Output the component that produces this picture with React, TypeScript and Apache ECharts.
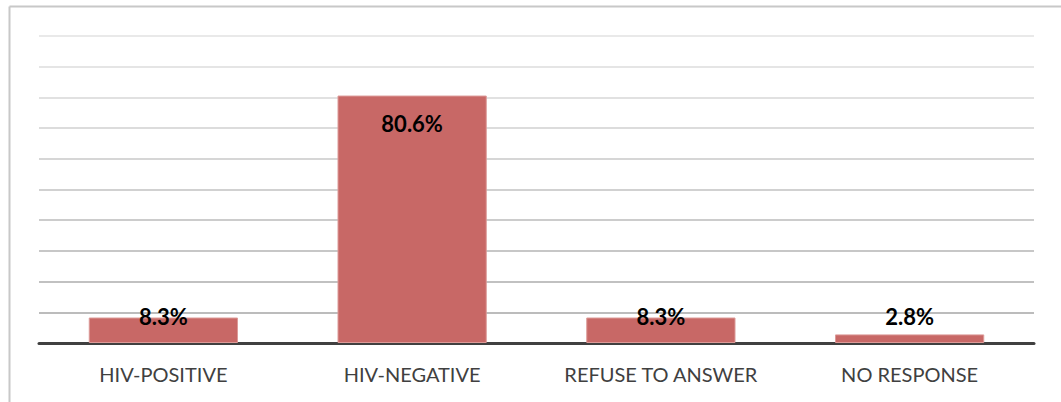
import React, { useEffect, useRef } from "react";
import * as echarts from "echarts";

const categories = ["HIV-POSITIVE", "HIV-NEGATIVE", "REFUSE TO ANSWER", "NO RESPONSE"];
const values = [8.3, 80.6, 8.3, 2.8];
const labelPlacement = [
  { position: "top", distance: -10 },
  { position: "insideTop", distance: 17 },
  { position: "top", distance: -10 },
  { position: "top", distance: 6.5 },
];
const gridColors = [
  "#a0a0a0", "#a6a6a6", "#adadad", "#b4b4b4", "#bbbbbb", "#c2c2c2",
  "#c9c9c9", "#d0d0d0", "#d7d7d7", "#dddddd", "#e2e2e2",
];

export default function App() {
  const ref = useRef<HTMLDivElement>(null);
  useEffect(() => {
    const chart = echarts.init(ref.current!, undefined, { renderer: "svg" });
    chart.setOption({
      animation: false,
      backgroundColor: "#ffffff",
      grid: { left: 39, right: 27, top: 36, bottom: 59, containLabel: false },
      xAxis: {
        type: "category",
        data: categories,
        axisLine: { show: true, lineStyle: { color: "#404040", width: 3 } },
        axisTick: { show: false },
        axisLabel: {
          color: "#404040",
          fontFamily: "Lato",
          fontSize: 20,
          margin: 21,
          interval: 0,
          hideOverlap: false,
        },
      },
      yAxis: {
        type: "value",
        min: 0,
        max: 100,
        interval: 10,
        axisLabel: { show: false },
        axisLine: { show: false },
        axisTick: { show: false },
        splitLine: { show: true, lineStyle: { color: gridColors, width: 1.5 } },
      },
      series: [
        {
          type: "bar",
          barWidth: "60%",
          data: values.map((v, i) => ({
            value: v,
            label: {
              show: true,
              position: labelPlacement[i].position,
              distance: labelPlacement[i].distance,
            },
          })),
          itemStyle: { color: "#c86866", borderColor: "#dc9a98", borderWidth: 1 },
          label: {
            show: true,
            formatter: (p: any) => p.value + "%",
            color: "#000000",
            fontFamily: "Lato",
            fontWeight: "bold",
            fontSize: 22,
            lineHeight: 22,
          },
        },
      ],
      graphic: [
        { type: "line", shape: { x1: 9.5, y1: 6.5, x2: 1061, y2: 6.5 }, style: { stroke: "#c8c8c8", lineWidth: 2 } },
        { type: "line", shape: { x1: 9.5, y1: 6.5, x2: 9.5, y2: 402 }, style: { stroke: "#c8c8c8", lineWidth: 2 } },
      ],
    });
    return () => chart.dispose();
  }, []);
  return (
    <div
      ref={ref}
      style={{ position: "fixed", left: 0, top: 0, width: 1061, height: 402 }}
    />
  );
}
